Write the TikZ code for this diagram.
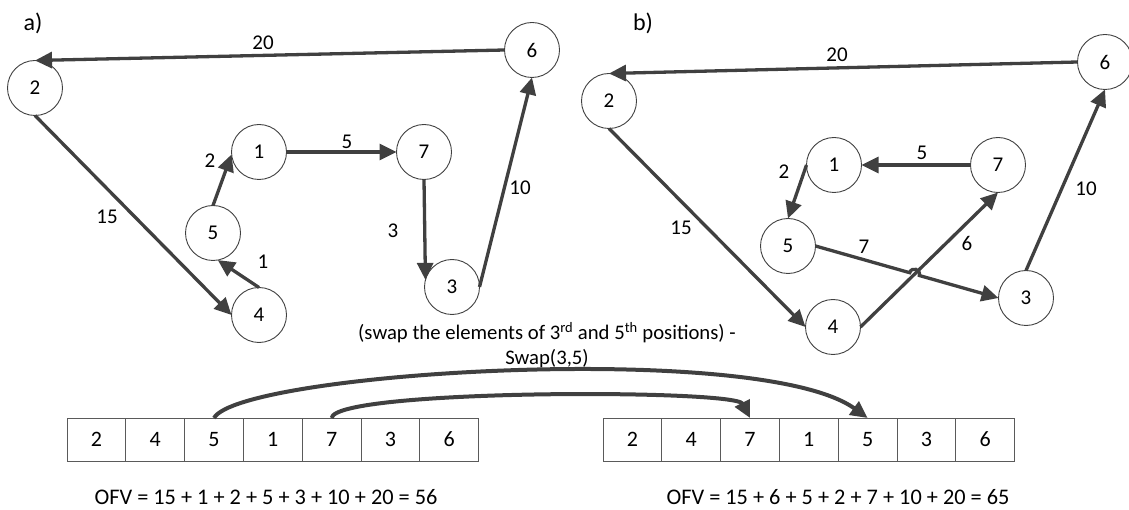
\documentclass[tikz,border=0pt]{standalone}
\usepackage{fontspec}
\setmainfont{Carlito}
\usetikzlibrary{arrows.meta}
\definecolor{dk}{HTML}{404040}
\definecolor{cellc}{HTML}{5A5A5A}
\begin{document}
\begin{tikzpicture}[x=1pt,y=-1pt,
  vtx/.style={circle,draw=dk,line width=0.9pt,minimum size=55pt,inner sep=0pt,outer sep=0pt,font=\fontsize{21}{25}\selectfont},
  edge/.style={draw=dk,line width=3.3pt,-{Triangle[length=17pt,width=16pt]}},
  swaparrow/.style={draw=dk,line width=4pt,-{Triangle[length=17pt,width=16pt]}},
  lbl/.style={font=\fontsize{21}{25}\selectfont,inner sep=0pt},
  ttl/.style={font=\fontsize{24}{28}\selectfont,inner sep=0pt},
  cell/.style={rectangle,draw=cellc,line width=1pt,minimum width=58.8pt,minimum height=43pt,inner sep=0pt,outer sep=0pt,font=\fontsize{22}{26}\selectfont},
  ofv/.style={font=\fontsize{22.3}{26}\selectfont,inner sep=0pt}]
\useasboundingbox (0,0) rectangle (1129,510);

% ---------- part a ----------
\node[ttl] (ta) at (33,23) {a)};
\node[vtx] (a2) at (35,88) {2};
\node[vtx] (a6) at (532,50) {6};
\node[vtx] (a1) at (259,152) {1};
\node[vtx] (a7) at (424,152) {7};
\node[vtx] (a5) at (213,233) {5};
\node[vtx] (a4) at (259,315) {4};
\node[vtx] (a3) at (452,287) {3};

\draw[edge] (a6.west) -- (a2.north);
\draw[edge] (a2.south) -- (a4.west);
\draw[edge] (a4.north) -- (a5.-80);
\draw[edge] (a5.north) -- (a1.185);
\draw[edge] (a1.east) -- (a7.west);
\draw[edge] (a7.south) -- (a3.165);
\draw[edge] (a3.east) -- (a6.south);

\node[lbl] (la20) at (263,43) {20};
\node[lbl] (la15) at (107,217) {15};
\node[lbl] (la1) at (263,262) {1};
\node[lbl] (la2) at (210,161) {2};
\node[lbl] (la5) at (347,142) {5};
\node[lbl] (la3) at (393,231) {3};
\node[lbl] (la10) at (520,188) {10};

% ---------- part b ----------
\node[ttl] (tb) at (643,23) {b)};
\node[vtx] (b2) at (609,101) {2};
\node[vtx] (b6) at (1105,62) {6};
\node[vtx] (b1) at (834,165) {1};
\node[vtx] (b7) at (998,165) {7};
\node[vtx] (b5) at (788,246) {5};
\node[vtx] (b4) at (833,327) {4};
\node[vtx] (b3) at (1026,298) {3};

\draw[edge] (b6.west) -- (b2.north);
\draw[edge] (b2.south) -- (b4.west);
\draw[edge] (b4.east) -- (b7.south);
\draw[edge] (b7.west) -- (b1.east);
\draw[edge] (b1.west) -- (b5.north);
\coordinate (hopA) at (909.7,272.7);
\coordinate (hopB) at (919.3,275.5);
\draw[edge] (b5.east) -- (hopA) .. controls (911.5,266.4) and (921.1,269.2) .. (hopB) -- (b3.west);
\draw[edge] (b3.north) -- (b6.south);

\node[lbl] (lb20) at (837,55) {20};
\node[lbl] (lb15) at (681,228) {15};
\node[lbl] (lb6) at (967,243) {6};
\node[lbl] (lb5) at (922,153) {5};
\node[lbl] (lb2) at (784,172) {2};
\node[lbl] (lb7) at (864,247) {7};
\node[lbl] (lb10) at (1086,189) {10};

% ---------- swap text ----------
\node[font=\fontsize{20.7}{25}\selectfont,align=center,inner sep=0pt] (swaptxt) at (547,345)
  {(swap the elements of 3\textsuperscript{rd} and 5\textsuperscript{th} positions) -\\Swap(3,5)};

% ---------- arrays ----------
\foreach \v [count=\i] in {2,4,5,1,7,3,6}
  \node[cell] (L\i) at ({67+58.8*(\i-0.5)},439.5) {\v};
\foreach \v [count=\i] in {2,4,7,1,5,3,6}
  \node[cell] (R\i) at ({603+58.8*(\i-0.5)},439.5) {\v};

\draw[swaparrow] (L3.north) .. controls (240,372) and (760,340) .. (R5.north);
\draw[swaparrow] (L5.north) .. controls (335,389) and (735,389) .. (R3.north);

\node[ofv] (ofvL) at (266,497) {OFV = 15 + 1 + 2 + 5 + 3 + 10 + 20 = 56};
\node[ofv] (ofvR) at (838,497) {OFV = 15 + 6 + 5 + 2 + 7 + 10 + 20 = 65};
\end{tikzpicture}
\end{document}
